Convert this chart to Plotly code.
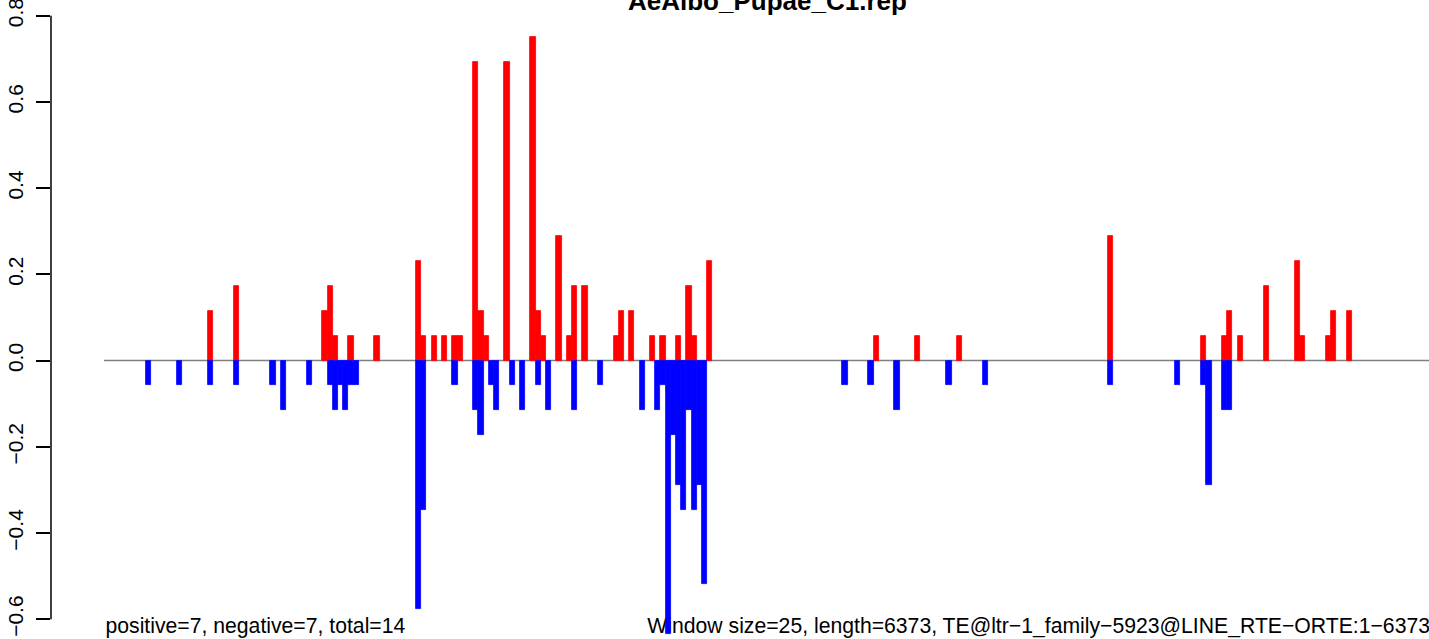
import plotly.graph_objects as go

# ---- data (window index, value) ----
pos_windows = [20, 25, 42, 43, 44, 47, 52, 60, 61, 63, 65, 67, 68, 71, 72, 73, 77, 82, 83, 84,
               87, 89, 90, 92, 98, 99, 101, 105, 107, 110, 112, 113, 116, 148, 156, 164, 193,
               211, 215, 216, 218, 223, 229, 230, 235, 236, 239]
pos_values = [0.1154, 0.1731, 0.1154, 0.1731, 0.0577, 0.0577, 0.0577, 0.2308, 0.0577, 0.0577,
              0.0577, 0.0577, 0.0577, 0.6923, 0.1154, 0.0577, 0.6923, 0.75, 0.1154, 0.0577,
              0.2885, 0.0577, 0.1731, 0.1731, 0.0577, 0.1154, 0.1154, 0.0577, 0.0577, 0.0577,
              0.1731, 0.0577, 0.2308, 0.0577, 0.0577, 0.0577, 0.2885,
              0.0577, 0.0577, 0.1154, 0.0577, 0.1731, 0.2308, 0.0577, 0.0577, 0.1154, 0.1154]

neg_windows = [8, 14, 20, 25, 32, 34, 39, 43, 44, 45, 46, 47, 48, 60, 61, 67, 71, 72, 74, 75,
               78, 80, 83, 85, 90, 95, 103, 106, 107, 108, 109, 110, 111, 112, 113, 114, 115,
               142, 147, 152, 162, 169, 193, 206, 211, 212, 215, 216]
neg_values = [-0.0577, -0.0577, -0.0577, -0.0577, -0.0577, -0.1154, -0.0577, -0.0577, -0.1154,
              -0.0577, -0.1154, -0.0577, -0.0577, -0.5769, -0.3462, -0.0577, -0.1154, -0.1731,
              -0.0577, -0.1154, -0.0577, -0.1154, -0.0577, -0.1154, -0.1154, -0.0577, -0.1154,
              -0.1154, -0.0577, -0.6346, -0.1731, -0.2885, -0.3462, -0.1154, -0.3462, -0.2885,
              -0.5192, -0.0577, -0.0577, -0.1154, -0.0577, -0.0577, -0.0577, -0.0577, -0.0577,
              -0.2885, -0.1154, -0.1154]

n_windows = 255
y_ticks = [-0.6, -0.4, -0.2, 0.0, 0.2, 0.4, 0.6, 0.8]
y_ticktext = ["\u22120.6", "\u22120.4", "\u22120.2", "0.0", "0.2", "0.4", "0.6", "0.8"]

title_text = "AeAlbo_Pupae_C1.rep"
left_note = "positive=7, negative=7, total=14"
right_note = ("Window size=25, length=6373, TE@ltr\u22121_family\u22125923@LINE_RTE\u2212ORTE:1\u22126373")

# ---- geometry ----
W, H = 1429, 639
ML = 51
plot_w = W - ML
px_per_unit = 5.2
x0_px = 104
x_lo = (ML - x0_px) / px_per_unit
x_hi = (W - x0_px) / px_per_unit
y_lo, y_hi = -0.6457, 0.8364

def xpaper(px):
    return (px - ML) / plot_w

FONT = "Liberation Sans, Arial, Helvetica, sans-serif"

fig = go.Figure()
fig.add_trace(go.Bar(x=[k + 0.5 for k in pos_windows], y=pos_values, width=1,
                     marker=dict(color="#FF0000", line=dict(color="#FF0000", width=0.8)),
                     showlegend=False, hoverinfo="skip"))
fig.add_trace(go.Bar(x=[k + 0.5 for k in neg_windows], y=neg_values, width=1,
                     marker=dict(color="#0000FF", line=dict(color="#0000FF", width=0.8)),
                     showlegend=False, hoverinfo="skip"))

shapes = [
    # zero line
    dict(type="line", xref="x", yref="y", x0=0, x1=n_windows, y0=0, y1=0,
         line=dict(color="#808080", width=1.5), layer="below"),
    # y axis line (R style, only between extreme ticks)
    dict(type="line", xref="paper", yref="y", x0=0, x1=0, y0=y_ticks[0], y1=y_ticks[-1],
         line=dict(color="black", width=1.5), layer="above"),
    # bottom texts, drawn beneath the bars
    dict(type="rect", xref="paper", yref="paper", x0=xpaper(102.5), x1=xpaper(1429),
         y0=0.0055, y1=0.1, line=dict(width=0), fillcolor="rgba(0,0,0,0)", layer="below",
         label=dict(text=left_note, textposition="bottom left", padding=0,
                    font=dict(family=FONT, size=21.2, color="black"))),
    dict(type="rect", xref="paper", yref="paper", x0=xpaper(102.5), x1=xpaper(1433),
         y0=0.0055, y1=0.1, line=dict(width=0), fillcolor="rgba(0,0,0,0)", layer="below",
         label=dict(text=right_note, textposition="bottom right", padding=0,
                    font=dict(family=FONT, size=21.2, color="black"))),
]

fig.update_layout(
    width=W, height=H, autosize=False,
    margin=dict(l=ML, r=0, t=0, b=0, pad=0),
    paper_bgcolor="white", plot_bgcolor="white",
    barmode="overlay", bargap=0,
    showlegend=False,
    font=dict(family=FONT, size=21, color="black"),
    xaxis=dict(range=[x_lo, x_hi], visible=False, fixedrange=True),
    yaxis=dict(range=[y_lo, y_hi], tickvals=y_ticks, ticktext=y_ticktext,
               ticks="outside", ticklen=14, tickwidth=1.5, tickcolor="black",
               tickangle=-90, showgrid=False, zeroline=False, showline=False,
               tickfont=dict(family=FONT, size=21, color="black"),
               ticklabelstandoff=5, ticklabeloverflow="allow", automargin=False,
               fixedrange=True),
    shapes=shapes,
    annotations=[
        dict(text="<b>" + title_text + "</b>", xref="paper", yref="paper",
             x=xpaper(767), y=1 - 18 / H, xanchor="center", yanchor="bottom",
             showarrow=False, font=dict(family=FONT, size=26, color="black")),
    ],
)

fig.write_html(
    "out.html",
    config={"displayModeBar": False},
    post_script="document.body.style.margin='0';document.body.style.padding='0';"
                "document.body.style.overflow='hidden';",
)
